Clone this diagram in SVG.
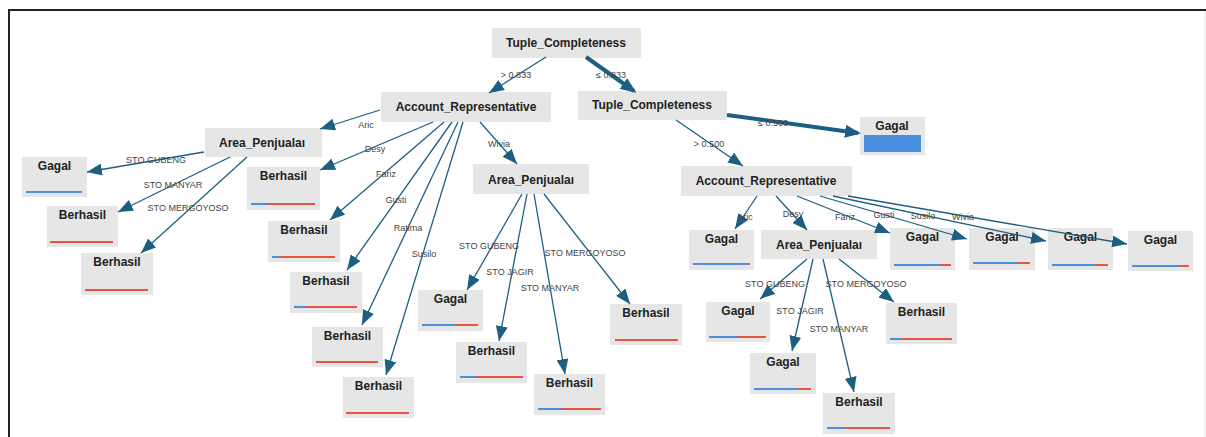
<svg xmlns="http://www.w3.org/2000/svg" width="1206" height="437" viewBox="0 0 1206 437">
<style>
.box{fill:#e6e6e6}
.nt{font-family:"Liberation Sans",Arial,sans-serif;font-weight:bold;font-size:12px;fill:#222;text-anchor:middle}
.el{font-family:"Liberation Sans",Arial,sans-serif;font-size:9px;fill:#444;text-anchor:middle}
.e{stroke:#1d5f80;stroke-width:1.3;fill:none;marker-end:url(#ah)}
.et{stroke:#1d5f80;stroke-width:4;fill:none;marker-end:url(#ah2)}
.b{stroke:#4a8fe0;stroke-width:2}
.r{stroke:#e6553f;stroke-width:2}
</style>
<defs>
<marker id="ah" markerUnits="userSpaceOnUse" markerWidth="15" markerHeight="12" refX="15" refY="6" orient="auto"><path d="M0,0 L15,6 L0,12 z" fill="#1d5f80"/></marker>
<marker id="ah2" markerUnits="userSpaceOnUse" markerWidth="16" markerHeight="13" refX="13" refY="6.5" orient="auto"><path d="M0,0 L16,6.5 L0,13 z" fill="#1d5f80"/></marker>
</defs>
<rect x="0" y="0" width="1206" height="437" fill="#fff"/>
<line x1="8" y1="10" x2="1206" y2="10" stroke="#222" stroke-width="2"/>
<line x1="9" y1="9" x2="9" y2="437" stroke="#222" stroke-width="2"/>
<line x1="1205" y1="11" x2="1205" y2="437" stroke="#e4e4e4" stroke-width="1"/>

<g id="n_root"><rect class="box" x="492" y="28" width="149" height="30"/><text class="nt" x="566" y="47">Tuple_Completeness</text></g>
<g id="n_ar1"><rect class="box" x="381" y="92" width="170" height="30"/><text class="nt" x="466" y="111">Account_Representative</text></g>
<g id="n_tc2"><rect class="box" x="578" y="91" width="149" height="29"/><text class="nt" x="652" y="109">Tuple_Completeness</text></g>
<g id="n_gtop"><rect class="box" x="860" y="117" width="65" height="38"/><text class="nt" x="892" y="130">Gagal</text><rect x="864" y="135" width="57" height="17" fill="#4a8fe0"/></g>
<g id="n_ap1"><rect class="box" x="205" y="128" width="117" height="29"/><text class="nt" x="262" y="147">Area_Penjualaı</text></g>
<g id="n_ap2"><rect class="box" x="473" y="164" width="116" height="30"/><text class="nt" x="531" y="184">Area_Penjualaı</text></g>
<g id="n_ar2"><rect class="box" x="681" y="166" width="171" height="30"/><text class="nt" x="766" y="185">Account_Representative</text></g>
<g id="n_ap3"><rect class="box" x="761" y="230" width="116" height="29"/><text class="nt" x="819" y="249">Area_Penjualaı</text></g>

<g id="l1"><rect class="box" x="22" y="157" width="65" height="40"/><text class="nt" x="54.5" y="170">Gagal</text><line class="b" x1="26" y1="192" x2="82" y2="192"/></g>
<g id="l2"><rect class="box" x="47" y="206" width="71" height="41"/><text class="nt" x="82.5" y="219">Berhasil</text><line class="r" x1="50" y1="242" x2="113" y2="242"/></g>
<g id="l3"><rect class="box" x="81" y="253" width="72" height="42"/><text class="nt" x="117" y="266">Berhasil</text><line class="r" x1="85" y1="290" x2="148" y2="290"/></g>

<g id="m1"><rect class="box" x="247" y="167" width="73" height="43"/><text class="nt" x="283.5" y="180">Berhasil</text><line class="b" x1="251" y1="204" x2="267" y2="204"/><line class="r" x1="267" y1="204" x2="315" y2="204"/></g>
<g id="m2"><rect class="box" x="268" y="221" width="72" height="41"/><text class="nt" x="304" y="234">Berhasil</text><line class="b" x1="272" y1="257" x2="280" y2="257"/><line class="r" x1="280" y1="257" x2="335" y2="257"/></g>
<g id="m3"><rect class="box" x="290" y="272" width="72" height="41"/><text class="nt" x="326" y="285">Berhasil</text><line class="b" x1="294" y1="307" x2="305" y2="307" stroke-width="3"/><line class="r" x1="305" y1="307" x2="357" y2="307" stroke-width="3"/></g>
<g id="m4"><rect class="box" x="312" y="327" width="71" height="40"/><text class="nt" x="347.5" y="340">Berhasil</text><line class="r" x1="316" y1="362" x2="378" y2="362"/></g>
<g id="m5"><rect class="box" x="343" y="377" width="71" height="41"/><text class="nt" x="378.5" y="390">Berhasil</text><line class="r" x1="346" y1="413" x2="409" y2="413"/></g>
<g id="m6"><rect class="box" x="418" y="290" width="65" height="41"/><text class="nt" x="450.5" y="303">Gagal</text><line class="b" x1="422" y1="325" x2="455" y2="325"/><line class="r" x1="455" y1="325" x2="478" y2="325"/></g>
<g id="m7"><rect class="box" x="456" y="342" width="71" height="41"/><text class="nt" x="491.5" y="355">Berhasil</text><line class="b" x1="460" y1="377" x2="476" y2="377"/><line class="r" x1="476" y1="377" x2="523" y2="377"/></g>
<g id="m8"><rect class="box" x="534" y="374" width="71" height="41"/><text class="nt" x="569.5" y="387">Berhasil</text><line class="b" x1="538" y1="409" x2="561" y2="409"/><line class="r" x1="561" y1="409" x2="601" y2="409"/></g>
<g id="m9"><rect class="box" x="610" y="304" width="72" height="41"/><text class="nt" x="646" y="317">Berhasil</text><line class="r" x1="615" y1="340" x2="678" y2="340"/></g>

<g id="r1"><rect class="box" x="689" y="230" width="65" height="40"/><text class="nt" x="721.5" y="243">Gagal</text><line class="b" x1="693" y1="264" x2="748" y2="264"/><line class="r" x1="748" y1="264" x2="750" y2="264"/></g>
<g id="r2"><rect class="box" x="890" y="228" width="65" height="42"/><text class="nt" x="922.5" y="241">Gagal</text><line class="b" x1="894" y1="265" x2="940" y2="265"/><line class="r" x1="940" y1="265" x2="951" y2="265"/></g>
<g id="r3"><rect class="box" x="969" y="228" width="66" height="42"/><text class="nt" x="1002" y="241">Gagal</text><line class="b" x1="973" y1="263" x2="1018" y2="263" stroke-width="4"/><line class="r" x1="1018" y1="263" x2="1030" y2="263" stroke-width="4"/></g>
<g id="r4"><rect class="box" x="1048" y="228" width="65" height="42"/><text class="nt" x="1080.5" y="241">Gagal</text><line class="b" x1="1052" y1="265" x2="1096" y2="265"/><line class="r" x1="1096" y1="265" x2="1108" y2="265"/></g>
<g id="r5"><rect class="box" x="1128" y="231" width="65" height="40"/><text class="nt" x="1160.5" y="244">Gagal</text><line class="b" x1="1132" y1="266" x2="1180" y2="266"/><line class="r" x1="1180" y1="266" x2="1189" y2="266"/></g>
<g id="r6"><rect class="box" x="706" y="302" width="64" height="40"/><text class="nt" x="738" y="315">Gagal</text><line class="b" x1="709" y1="337" x2="738" y2="337"/><line class="r" x1="738" y1="337" x2="766" y2="337"/></g>
<g id="r7"><rect class="box" x="750" y="353" width="66" height="41"/><text class="nt" x="783" y="366">Gagal</text><line class="b" x1="754" y1="389" x2="798" y2="389"/><line class="r" x1="798" y1="389" x2="811" y2="389"/></g>
<g id="r8"><rect class="box" x="823" y="393" width="72" height="41"/><text class="nt" x="859" y="406">Berhasil</text><line class="b" x1="827" y1="428" x2="845" y2="428"/><line class="r" x1="845" y1="428" x2="890" y2="428"/></g>
<g id="r9"><rect class="box" x="886" y="303" width="71" height="41"/><text class="nt" x="921.5" y="316">Berhasil</text><line class="b" x1="890" y1="339" x2="902" y2="339"/><line class="r" x1="902" y1="339" x2="952" y2="339"/></g>

<g id="connectors">
<line class="e" x1="546" y1="57" x2="489" y2="93"/>
<line class="et" x1="586" y1="57" x2="634" y2="91"/>
<line class="et" x1="727" y1="115" x2="858" y2="133"/>
<line class="e" x1="676" y1="120" x2="743" y2="166"/>
<line class="e" x1="380" y1="110" x2="320" y2="129"/>
<line class="e" x1="433" y1="122" x2="320" y2="170"/>
<line class="e" x1="444" y1="122" x2="330" y2="220"/>
<line class="e" x1="452" y1="122" x2="347" y2="270"/>
<line class="e" x1="458" y1="122" x2="362" y2="325"/>
<line class="e" x1="463" y1="122" x2="386" y2="375"/>
<line class="e" x1="480" y1="122" x2="517" y2="164"/>
<line class="e" x1="204" y1="152" x2="87" y2="172"/>
<line class="e" x1="230" y1="157" x2="118" y2="212"/>
<line class="e" x1="247" y1="157" x2="141" y2="253"/>
<line class="e" x1="522" y1="194" x2="467" y2="290"/>
<line class="e" x1="527" y1="194" x2="499" y2="341"/>
<line class="e" x1="534" y1="194" x2="565" y2="374"/>
<line class="e" x1="544" y1="194" x2="630" y2="304"/>
<line class="e" x1="757" y1="196" x2="735" y2="229"/>
<line class="e" x1="776" y1="196" x2="807" y2="230"/>
<line class="e" x1="797" y1="196" x2="890" y2="233"/>
<line class="e" x1="820" y1="196" x2="967" y2="239"/>
<line class="e" x1="833" y1="196" x2="1046" y2="241"/>
<line class="e" x1="848" y1="196" x2="1127" y2="244"/>
<line class="e" x1="807" y1="259" x2="760" y2="299"/>
<line class="e" x1="813" y1="259" x2="792" y2="351"/>
<line class="e" x1="823" y1="259" x2="854" y2="392"/>
<line class="e" x1="839" y1="259" x2="894" y2="302"/>
<text class="el" x="516" y="78">&gt; 0.833</text>
<text class="el" x="611" y="78">≤ 0.833</text>
<text class="el" x="773" y="126">≤ 0.500</text>
<text class="el" x="709" y="147">&gt; 0.500</text>
<text class="el" x="366" y="128">Aric</text>
<text class="el" x="375" y="152">Desy</text>
<text class="el" x="386" y="177">Fariz</text>
<text class="el" x="396" y="203">Gusti</text>
<text class="el" x="408" y="231">Ratima</text>
<text class="el" x="424" y="257">Susilo</text>
<text class="el" x="499" y="147">Wivia</text>
<text class="el" x="156" y="163">STO GUBENG</text>
<text class="el" x="173" y="188">STO MANYAR</text>
<text class="el" x="188" y="211">STO MERGOYOSO</text>
<text class="el" x="489" y="249">STO GUBENG</text>
<text class="el" x="510" y="275">STO JAGIR</text>
<text class="el" x="550" y="291">STO MANYAR</text>
<text class="el" x="585" y="256">STO MERGOYOSO</text>
<text class="el" x="745" y="220">Aric</text>
<text class="el" x="793" y="217">Desy</text>
<text class="el" x="845" y="220">Fariz</text>
<text class="el" x="884" y="218">Gusti</text>
<text class="el" x="923" y="219">Susilo</text>
<text class="el" x="963" y="220">Wivia</text>
<text class="el" x="775" y="287">STO GUBENG</text>
<text class="el" x="800" y="314">STO JAGIR</text>
<text class="el" x="839" y="332">STO MANYAR</text>
<text class="el" x="866" y="287">STO MERGOYOSO</text>
</g>
</svg>
